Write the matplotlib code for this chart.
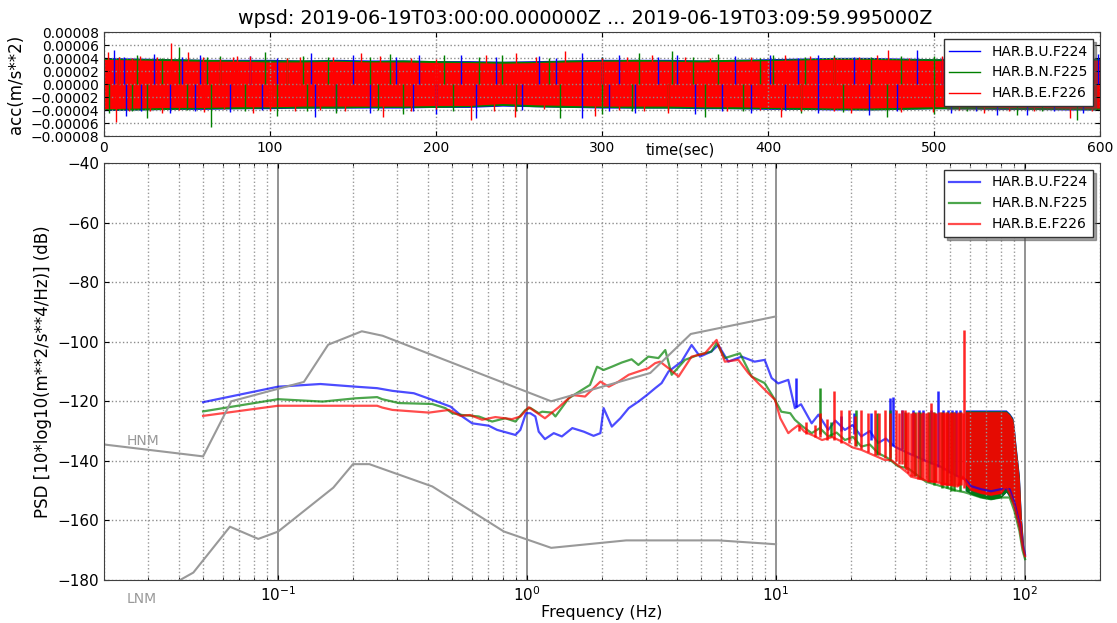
import matplotlib
matplotlib.use("Agg")
import matplotlib.pyplot as plt
from matplotlib.ticker import FuncFormatter, LogLocator
import numpy as np

labels = ["HAR.B.U.F224", "HAR.B.N.F225", "HAR.B.E.F226"]
colors = ["blue", "green", "red"]
title = "wpsd: 2019-06-19T03:00:00.000000Z ... 2019-06-19T03:09:59.995000Z"

# ---- time series (values in 1e-5 m/s**2), core band every 20 s + spikes ----
t_core = np.arange(0, 601, 20)
red_up = [3.8, 3.7, 3.6, 3.5, 3.5, 3.4, 3.4, 3.5, 3.4, 3.4, 3.3, 3.3, 3.2, 3.3, 3.4, 3.5,
          3.5, 3.5, 3.4, 3.5, 3.6, 3.7, 3.8, 3.8, 3.7, 3.6, 3.6, 3.5, 3.5, 3.6, 3.7]
red_lo = [-3.8, -3.7, -3.6, -3.6, -3.5, -3.5, -3.4, -3.4, -3.4, -3.4, -3.3, -3.3, -3.0, -3.2, -3.3, -3.4,
          -3.4, -3.4, -3.5, -3.5, -3.6, -3.6, -3.7, -3.7, -3.6, -3.5, -3.5, -3.6, -3.6, -3.7, -3.7]
blue_up = [4.1, 4.0, 3.9, 3.8, 3.8, 3.8, 3.7, 3.8, 3.7, 3.7, 3.6, 3.6, 3.5, 3.6, 3.7, 3.8,
           3.8, 3.8, 3.7, 3.8, 3.9, 4.0, 4.1, 4.1, 4.0, 3.9, 3.9, 3.8, 3.8, 3.9, 4.0]
blue_lo = [-4.1, -4.0, -3.9, -3.9, -3.8, -3.8, -3.7, -3.7, -3.7, -3.7, -3.6, -3.6, -3.4, -3.5, -3.6, -3.7,
           -3.7, -3.7, -3.8, -3.8, -3.9, -3.9, -4.0, -4.0, -3.9, -3.8, -3.8, -3.9, -3.9, -4.0, -4.0]
green_up = [4.0, 3.9, 3.9, 3.8, 3.7, 3.7, 3.7, 3.7, 3.6, 3.7, 3.6, 3.5, 3.5, 3.5, 3.7, 3.7,
            3.8, 3.7, 3.7, 3.8, 3.8, 3.9, 4.0, 4.0, 3.9, 3.9, 3.8, 3.8, 3.7, 3.8, 3.9]
green_lo = [-4.0, -4.0, -3.9, -3.8, -3.8, -3.7, -3.7, -3.7, -3.6, -3.6, -3.6, -3.5, -3.3, -3.5, -3.6, -3.6,
            -3.7, -3.7, -3.7, -3.8, -3.8, -3.9, -3.9, -4.0, -3.9, -3.8, -3.8, -3.8, -3.9, -3.9, -4.0]

blue_spk_t = [6, 30, 58, 88, 125, 150, 190, 215, 262, 288, 310, 345, 380, 401, 430, 490, 520, 560, 599,
              12, 47, 104, 176, 236, 272, 300, 334, 418, 452, 505, 532, 578,
              13, 40, 76, 127, 160, 200, 224, 288, 320, 356, 390, 430, 461, 510, 538, 556, 590,
              22, 55, 95, 140, 186, 252, 304, 372, 410, 478, 525, 572]
blue_spk_v = [5.3, 4.6, 4.4, 4.3, 4.8, 4.4, 4.5, 4.4, 4.3, 4.7, 4.4, 4.5, 4.3, 4.4, 4.4, 5.2, 4.5, 4.3, 4.6,
              4.1, 4.2, 4.0, 4.1, 4.2, 4.0, 4.1, 4.2, 4.0, 4.2, 4.1, 4.3, 4.1,
              -4.9, -4.4, -4.3, -5.0, -4.5, -4.6, -5.3, -5.3, -4.4, -4.6, -4.5, -4.4, -4.8, -4.5, -4.8, -4.8, -4.4,
              -4.1, -4.2, -4.0, -4.2, -4.1, -4.0, -4.2, -4.1, -4.0, -4.2, -4.1, -4.2]
green_spk_t = [20, 45, 70, 97, 120, 172, 205, 240, 322, 342, 370, 403, 440, 480, 530, 570,
               9, 35, 62, 110, 135, 160, 226, 268, 300, 355, 395, 422, 462, 500, 545, 590,
               3, 25.7, 64.5, 104, 140, 180, 274.7, 300, 362, 420, 471.5, 500, 550, 586,
               17, 50, 85, 122, 165, 210, 248, 318, 340, 385, 445, 520, 565]
green_spk_v = [4.4, 5.7, 4.3, 5.0, 4.3, 4.6, 4.4, 4.5, 4.7, 5.1, 4.6, 4.4, 4.5, 4.3, 4.5, 4.4,
               4.1, 4.0, 4.2, 4.0, 4.1, 4.2, 4.1, 4.0, 4.2, 4.1, 4.0, 4.2, 4.1, 4.3, 4.1, 4.2,
               -4.5, -5.3, -6.6, -4.9, -4.5, -4.6, -5.2, -4.6, -5.1, -4.5, -5.0, -4.6, -4.7, -5.6,
               -4.1, -4.0, -4.2, -4.1, -4.0, -4.2, -4.1, -4.2, -4.0, -4.1, -4.3, -4.1, -4.2]
red_spk_t = [2.2, 40.4, 50.8, 80, 155, 230, 248, 278, 330, 410, 465.5, 472, 505, 540, 580,
             9, 16.7, 21.7, 31.7, 59.8, 69.9, 77.9, 88, 110, 118, 138, 166, 185, 200, 260, 300, 315,
             350, 365, 390, 425, 440, 455, 485, 515, 550, 565, 595,
             7, 35, 90, 168, 221, 247.6, 295.8, 340, 408, 450, 499.5, 530, 582,
             15, 28, 45, 60, 72, 100, 115, 130, 145, 185, 200, 235, 265, 310, 325, 375, 395, 420,
             440, 480, 515, 545, 560, 595]
red_spk_v = [5.0, 6.3, 5.0, 4.3, 4.8, 4.4, 4.7, 5.1, 4.4, 4.4, 4.4, 5.2, 4.3, 4.5, 4.4,
             4.2, 4.0, 4.3, 4.1, 4.2, 3.9, 4.1, 4.3, 4.0, 4.2, 4.1, 4.3, 4.0, 3.9, 4.1, 4.0, 4.2,
             4.1, 4.0, 4.2, 4.3, 4.1, 4.2, 4.0, 4.1, 4.3, 4.2, 4.0,
             -5.8, -4.4, -4.4, -5.0, -5.5, -5.1, -4.9, -4.4, -5.0, -4.4, -4.3, -4.5, -5.3,
             -4.1, -4.2, -4.0, -4.3, -3.9, -4.1, -4.2, -4.0, -4.1, -4.2, -3.9, -4.1, -3.9, -4.0, -4.2,
             -4.1, -4.0, -4.2, -4.1, -4.3, -4.0, -4.2, -4.1, -4.2]

# ---- PSD curves (Hz, dB) ----
blue_f = [0.05, 0.1, 0.148, 0.205, 0.25, 0.288, 0.351, 0.416, 0.493, 0.549, 0.602, 0.702, 0.758, 0.898,
          0.94, 0.99, 1.03, 1.08, 1.114, 1.18, 1.28, 1.38, 1.52, 1.69, 1.85, 1.97, 2.03, 2.19, 2.37,
          2.56, 2.8, 3.03, 3.27, 3.47, 3.7, 4.17, 4.58, 4.95, 5.5, 5.86, 6.43, 7.27, 8.2, 9.0, 9.6,
          10.2, 11.2, 11.9, 12.6, 13.9, 14.8, 16.2, 17.3, 18.9, 20.3, 22.0, 23.8, 25.7, 27.6, 29.9,
          33.9, 40, 46, 53, 57, 60.7, 66.5, 73, 80, 86.7, 90.6, 94.9, 97.7, 100]
blue_db = [-120.3, -115.1, -114.2, -115.1, -115.6, -116.5, -117.3, -119.5, -121.8, -125.1, -127.4, -128.2,
           -129.6, -131.3, -129.6, -124.0, -124.0, -125.1, -130.2, -132.7, -130.7, -131.8, -129.0, -130.2,
           -131.6, -130.7, -122.3, -128.5, -125.7, -122.3, -120.1, -117.9, -115.6, -113.9, -110.0, -106.7,
           -101.1, -105.0, -103.3, -101.1, -106.7, -105.0, -106.7, -106.1, -112.2, -114.0, -112.8, -122.3,
           -121.0, -127.4, -124.5, -129.6, -126.5, -129.6, -128.0, -131.8, -130.0, -134.0, -132.5, -135.2,
           -137.4, -140.0, -142.0, -145.0, -146.0, -148.5, -149.5, -150.2, -149.5, -149.5, -154.0, -161.0,
           -168.0, -171.5]
green_f = [0.05, 0.1, 0.151, 0.205, 0.25, 0.262, 0.306, 0.416, 0.47, 0.5, 0.549, 0.64, 0.724, 0.818,
           0.898, 0.985, 1.03, 1.114, 1.15, 1.26, 1.3, 1.47, 1.66, 1.79, 1.91, 2.03, 2.19, 2.4, 2.63,
           2.8, 3.07, 3.37, 3.59, 3.81, 4.31, 4.88, 5.5, 5.77, 6.23, 7.16, 7.98, 9.0, 9.9, 10.5, 11.4,
           11.9, 12.8, 13.9, 15.0, 16.2, 17.5, 18.9, 20.4, 22.0, 23.8, 25.7, 28.0, 30.9, 33.9, 40, 46,
           53, 57, 60.7, 66.5, 73, 80, 86.7, 90.6, 94.9, 97.7, 100]
green_db = [-123.4, -119.3, -120.1, -119.0, -118.6, -119.3, -120.6, -120.9, -122.3, -124.0, -124.6, -125.1,
            -126.8, -125.7, -126.8, -122.9, -122.2, -124.0, -123.5, -123.8, -125.1, -119.0, -116.2, -114.5,
            -108.4, -109.5, -108.4, -107.0, -105.9, -107.8, -105.0, -105.5, -102.8, -111.1, -106.1, -104.4,
            -103.3, -100.5, -105.5, -103.9, -111.7, -113.9, -119.5, -123.5, -124.0, -126.2, -128.5, -130.7,
            -129.0, -131.8, -130.5, -133.0, -132.0, -135.2, -134.5, -137.4, -139.0, -141.8, -142.5, -147.0,
            -148.5, -150.0, -150.5, -151.2, -152.3, -152.9, -152.3, -152.3, -156.8, -163.5, -170.0, -173.0]
red_f = [0.05, 0.1, 0.25, 0.262, 0.288, 0.404, 0.486, 0.54, 0.59, 0.66, 0.746, 0.87, 0.94, 1.016, 1.08,
         1.18, 1.34, 1.52, 1.71, 1.85, 1.97, 2.13, 2.33, 2.56, 2.8, 3.07, 3.27, 3.42, 3.7, 4.06, 4.58,
         5.18, 5.77, 6.23, 7.06, 7.75, 8.76, 9.9, 10.4, 11.2, 11.6, 12.3, 13.0, 14.1, 15.3, 16.8, 18.9,
         20.3, 22.0, 24.5, 27.3, 29.0, 33.9, 34.8, 39.4, 46.0, 53.6, 56.2, 60.7, 66.5, 73, 80, 84, 86.7,
         90.6, 94.9, 97.7, 100]
red_db = [-124.9, -121.5, -121.5, -122.1, -122.9, -123.8, -122.9, -124.9, -124.6, -126.2, -125.3, -126.0,
          -125.1, -122.0, -123.5, -125.7, -122.0, -117.9, -118.4, -115.6, -113.4, -115.1, -113.4, -111.1,
          -110.0, -108.9, -107.2, -106.7, -108.9, -111.7, -105.0, -103.9, -99.4, -106.7, -106.1, -110.6,
          -115.1, -119.5, -125.7, -130.7, -129.6, -128.0, -130.2, -131.5, -133.0, -132.0, -134.0, -135.5,
          -136.3, -138.0, -139.7, -139.7, -144.2, -145.3, -146.4, -147.5, -148.6, -145.3, -149.7, -150.8,
          -151.4, -150.8, -148.6, -150.8, -155.3, -162.0, -168.7, -172.0]

# spikes of the 12-57 Hz comb: (freq, bottom, top)
blue_comb_f = [12.0, 18.3, 20.5, 24.0, 28.8, 29.5, 32.0, 35.5, 37.5, 39.0, 42.0, 44.5, 47.0, 49.0,
               51.0, 53.0, 55.0]
blue_comb_lo = [-122, -130, -131, -133, -135, -135, -136, -138, -139, -140, -141, -142, -143, -144,
                -144, -145, -145]
blue_comb_hi = [-112.2, -125, -124, -124, -119, -118.4, -123, -123, -123, -123, -123, -116.5, -123,
                -123, -123, -123, -123]
green_comb_f = [15.0, 16.6, 21.0, 25.5, 28.6, 33.0, 36.0, 38.0, 41.0, 43.0, 46.5, 48.5, 50.5, 52.0, 55.0]
green_comb_lo = [-131, -132, -135, -138, -140, -142, -145, -146, -147, -148, -149, -149, -150, -150,
                 -150]
green_comb_hi = [-115.5, -127, -123, -124, -123, -123.5, -123.5, -123.5, -123.5, -123.5, -123.5,
                 -123.5, -123.5, -123.5, -123.5]
red_comb_f = [12.4, 13.2, 14.3, 15.0, 16.0, 17.1, 18.3, 19.6, 20.8, 22.0, 23.3, 24.9, 26.0, 27.4, 28.8,
              30.4, 31.3, 31.9, 32.8, 33.4, 33.9, 34.7, 35.5, 36.3, 37.2, 38.1, 39.0, 40.0, 40.9, 41.9,
              42.8, 43.4, 44.0, 45.0, 46.0, 46.7, 47.4, 48.1, 48.8, 49.5, 50.3, 51.1, 51.9, 52.7, 53.6,
              54.4, 55.3, 56.2, 57.0]
red_comb_lo = [-130, -131, -132, -132, -133, -133, -134, -134, -135, -136, -137, -138, -138, -139, -139,
               -140, -141, -141, -142, -143, -144, -145, -145, -145, -146, -146, -146, -146, -147, -147,
               -147, -147, -147, -147, -148, -148, -148, -148, -148, -148, -148, -148, -148, -148, -148.6,
               -148, -148, -146, -149]
red_comb_hi = [-128, -127, -128, -124, -126, -116.7, -123, -123, -125, -123, -124, -123, -124, -123,
               -124, -123, -124, -123, -123, -124, -123.5, -124, -123.5, -124, -123.5, -124, -123.5,
               -124, -123.5, -120.7, -123.5, -124, -124, -123.5, -123.5, -124, -123.5, -124, -123.5,
               -124, -123.5, -124, -123.5, -124, -123.5, -124, -123.5, -124, -96.0]

# solid band 57-100 Hz
band_f = [57.5, 60.7, 66.5, 73, 80, 84, 86.7, 89.3, 90.6, 91.8, 94.9, 96.6, 97.7, 98.5, 100]
red_band_lo = [-148, -149.7, -150.8, -151.4, -150.8, -148.6, -150.8, -153, -155.3, -157, -162, -165,
               -168.7, -170, -172]
red_band_hi = [-123.5, -123.5, -123.5, -123.5, -123.5, -123.5, -124.5, -126.2, -130, -135.2, -146.4,
               -159.8, -165, -168.7, -171]
green_band_lo = [-150, -151.2, -152.3, -152.9, -152.3, -150.5, -152.3, -154.5, -156.8, -158.5, -163.5,
                 -166.5, -170, -171.5, -173]
green_band_hi = [-123.2, -123.2, -123.2, -123.2, -123.2, -123.2, -124.2, -125.8, -129.5, -134.5, -145.5,
                 -159, -164, -168, -170.5]
blue_band_lo = green_band_lo
blue_band_hi = [-122.9, -122.9, -122.9, -122.9, -122.9, -122.9, -124, -125.5, -129, -134, -145,
                -158.5, -163.5, -167.5, -170]

# Peterson noise models
nhnm_f = [0.02, 0.05, 0.0649, 0.127, 0.159, 0.217, 0.263, 1.25, 3.125, 4.545, 10.0]
nhnm_db = [-134.5, -138.5, -120.0, -113.5, -101.0, -96.5, -98.0, -120.0, -110.5, -97.4, -91.5]
nlnm_f = [0.0316, 0.0457, 0.0641, 0.0833, 0.1, 0.1667, 0.2, 0.2326, 0.4167, 0.8065, 1.25, 2.5, 5.88, 10.0]
nlnm_db = [-185.0, -177.5, -162.1, -166.2, -163.75, -149.0, -141.1, -141.1, -148.6, -163.7, -169.2,
           -166.7, -166.7, -168.0]

fig = plt.figure(figsize=(11.17, 6.23), dpi=100)
ax1 = fig.add_axes([0.0931, 0.7817, 0.8917, 0.1669])
ax2 = fig.add_axes([0.0931, 0.0690, 0.8917, 0.6694])

# top panel
cores = [(blue_up, blue_lo), (green_up, green_lo), (red_up, red_lo)]
spikes = [(blue_spk_t, blue_spk_v), (green_spk_t, green_spk_v), (red_spk_t, red_spk_v)]
for (up, lo), (st, sv), c, lab in zip(cores, spikes, colors, labels):
    ax1.fill_between(t_core, np.array(lo) * 1e-5, np.array(up) * 1e-5, color=c, lw=0)
    ax1.vlines(st, 0, np.array(sv) * 1e-5, color=c, lw=1.0)
    ax1.plot([], [], color=c, lw=1, label=lab)
ax1.set_xlim(0, 600)
ax1.set_ylim(-0.00008, 0.00008)
ax1.set_yticks(np.arange(-0.00008, 0.000081, 0.00002))
ax1.yaxis.set_major_formatter(FuncFormatter(
    lambda v, p: ("%.5f" % (0 if abs(v) < 1e-9 else v)).replace("-", "\u2212")))
ax1.grid(True, ls=":", color="0.55", lw=1)
ax1.tick_params(direction="in", top=True, right=True, labelsize=10)
ax1.set_ylabel("acc(m/s**2)", fontsize=12)
ax1.set_xlabel("time(sec)", fontsize=10.5)
ax1.xaxis.set_label_coords(0.579, -0.065)
ax1.legend(loc="upper right", fontsize=10, shadow=True, fancybox=False, framealpha=1,
           edgecolor="0.2", handlelength=2.2)
fig.text(0.524, 0.971, title, ha="center", va="center", fontsize=13.8)

# bottom panel
curves = [(blue_f, blue_db), (green_f, green_db), (red_f, red_db)]
combs = [(blue_comb_f, blue_comb_lo, blue_comb_hi), (green_comb_f, green_comb_lo, green_comb_hi),
         (red_comb_f, red_comb_lo, red_comb_hi)]
bands = [(blue_band_lo, blue_band_hi), (green_band_lo, green_band_hi), (red_band_lo, red_band_hi)]
for (f, db), (cf, clo, chi), (blo, bhi), c, lab in zip(curves, combs, bands, colors, labels):
    ax2.plot(f, db, color=c, lw=1.6, alpha=0.7, label=lab)
    ax2.vlines(cf, clo, chi, color=c, lw=1.8, alpha=0.85)
    ax2.fill_between(band_f, blo, bhi, color=c, lw=0, alpha=0.9)

ax2.plot(nhnm_f, nhnm_db, color="0.6", lw=1.5)
ax2.plot(nlnm_f, nlnm_db, color="0.6", lw=1.5)
ax2.text(0.0247, -133.5, "HNM", color="0.6", fontsize=10, ha="left", va="center")
ax2.text(0.0247, -186.4, "LNM", color="0.6", fontsize=10, ha="left", va="center", clip_on=False)

ax2.set_xscale("log")
ax2.set_xlim(0.02, 200)
ax2.set_ylim(-180, -40)
ax2.set_yticks(np.arange(-180, -39, 20))
ax2.xaxis.set_minor_locator(LogLocator(base=10, subs=np.arange(2, 10), numticks=20))
ax2.grid(True, which="major", axis="y", ls=":", color="0.55", lw=1)
ax2.grid(True, which="minor", axis="x", ls=":", color="0.6", lw=1)
ax2.grid(True, which="major", axis="x", ls="-", color="0.5", lw=1.2)
ax2.tick_params(direction="in", which="both", top=True, right=True, labelsize=11)
ax2.set_xlabel("Frequency (Hz)", fontsize=11.5, labelpad=1)
ax2.set_ylabel("PSD [10*log10(m**2/s**4/Hz)] (dB)", fontsize=12)
ax2.legend(loc="upper right", fontsize=10, shadow=True, fancybox=False, framealpha=1,
           edgecolor="0.2", handlelength=2.2)

for ax in (ax1, ax2):
    for s in ax.spines.values():
        s.set_color("0.25")

fig.savefig("out.png", dpi=100)
